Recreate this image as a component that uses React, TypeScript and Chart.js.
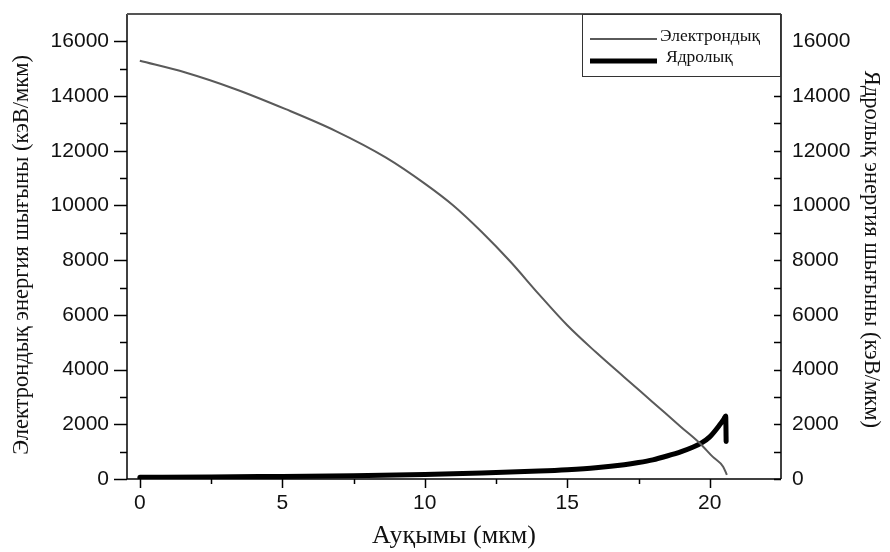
import React, { useEffect, useRef } from "react";
import { Chart, registerables } from "chart.js";

Chart.register(...registerables);

// ---- Data ----
const electronX = [0, 1.6, 3.36, 5.12, 6.88, 8.64, 10, 11, 12, 13, 14, 15, 16, 17, 18, 19, 19.65, 20.1, 20.47, 20.6];
const electronY = [15290, 14860, 14250, 13520, 12720, 11750, 10800, 10000, 9030, 7950, 6760, 5620, 4640, 3720, 2810, 1895, 1310, 817, 450, 150];

const nuclearX = [0, 2.5, 5, 7.5, 10, 12, 14, 15, 16, 17, 17.5, 18, 18.5, 19, 19.4, 19.7, 20.0, 20.35, 20.5, 20.56, 20.575];
const nuclearY = [60, 75, 95, 115, 160, 215, 290, 340, 410, 520, 600, 700, 840, 1000, 1160, 1310, 1540, 1980, 2200, 2300, 1370];

const seriesLabels = ["Электрондық", "Ядролық"];

const xMajorTicks = [0, 5, 10, 15, 20];
const xMinorTicks = [2.5, 7.5, 12.5, 17.5];
const yMajorTicks = [0, 2000, 4000, 6000, 8000, 10000, 12000, 14000, 16000];
const yMinorTicks = [1000, 3000, 5000, 7000, 9000, 11000, 13000, 15000];

const xTitle = "Ауқымы (мкм)";
const yTitle = "Электрондық энергия шығыны (кэВ/мкм)";
const y2Title = "Ядролық энергия шығыны (кэВ/мкм)";

const SANS = "'Liberation Sans', Arial, sans-serif";
const SERIF = "'Liberation Serif', 'Times New Roman', serif";

const decorPlugin = {
  id: "decor",
  afterDraw(chart: any) {
    const { ctx, chartArea: a, scales } = chart;
    const xs = scales.x;
    const ys = scales.y;
    ctx.save();
    const line = (x1: number, y1: number, x2: number, y2: number) => {
      ctx.beginPath();
      ctx.moveTo(x1, y1);
      ctx.lineTo(x2, y2);
      ctx.stroke();
    };
    ctx.strokeStyle = "#000";
    ctx.lineWidth = 1.5;
    xMajorTicks.forEach((v) => {
      const px = Math.round(xs.getPixelForValue(v)) + 0.5;
      line(px, a.bottom, px, a.bottom + 9);
    });
    xMinorTicks.forEach((v) => {
      const px = Math.round(xs.getPixelForValue(v)) + 0.5;
      line(px, a.bottom, px, a.bottom + 5);
    });
    yMajorTicks.forEach((v) => {
      const py = Math.round(ys.getPixelForValue(v)) + 0.5;
      line(a.left - 13, py, a.left, py);
      line(a.right - 7, py, a.right, py);
    });
    yMinorTicks.forEach((v) => {
      const py = Math.round(ys.getPixelForValue(v)) + 0.5;
      line(a.left - 7, py, a.left, py);
      line(a.right - 7, py, a.right, py);
    });
    // frame
    ctx.lineWidth = 1.5;
    line(a.left, a.bottom, a.right, a.bottom);
    line(a.left, a.top, a.left, a.bottom);
    line(a.right, a.top, a.right, a.bottom);
    ctx.strokeStyle = "#555";
    ctx.lineWidth = 2;
    line(a.left, a.top, a.right, a.top);

    // legend box
    const bw = 199;
    const bh = 63;
    const bx = a.right - bw;
    const by = a.top;
    ctx.fillStyle = "#fff";
    ctx.fillRect(bx, by + 1, bw, bh - 1);
    ctx.strokeStyle = "#333";
    ctx.lineWidth = 1;
    ctx.strokeRect(bx + 0.5, by + 0.5, bw - 1, bh - 1);
    const rows = [
      { ly: 25, ty: 27, tx: 78 },
      { ly: 47, ty: 48, tx: 84 },
    ];
    chart.data.datasets.forEach((ds: any, i: number) => {
      const r = rows[i];
      ctx.strokeStyle = ds.borderColor;
      ctx.lineWidth = ds.borderWidth;
      ctx.lineCap = "butt";
      line(bx + 8, by + r.ly, bx + 75, by + r.ly);
      ctx.fillStyle = "#111";
      ctx.font = `17.5px ${SERIF}`;
      ctx.textBaseline = "alphabetic";
      ctx.textAlign = "left";
      ctx.fillText(ds.label, bx + r.tx, by + r.ty);
    });
    ctx.restore();
  },
};

export default function App() {
  const canvasRef = useRef<HTMLCanvasElement | null>(null);

  useEffect(() => {
    const canvas = canvasRef.current;
    if (!canvas) return;
    const chart = new Chart(canvas, {
      type: "line",
      data: {
        datasets: [
          {
            label: seriesLabels[0],
            data: electronX.map((x, i) => ({ x, y: electronY[i] })),
            borderColor: "#5a5a5a",
            borderWidth: 2,
            pointRadius: 0,
            cubicInterpolationMode: "monotone",
            yAxisID: "y",
          },
          {
            label: seriesLabels[1],
            data: nuclearX.map((x, i) => ({ x, y: nuclearY[i] })),
            borderColor: "#000",
            borderWidth: 5,
            pointRadius: 0,
            cubicInterpolationMode: "monotone",
            borderCapStyle: "round",
            borderJoinStyle: "round",
            yAxisID: "y2",
          },
        ],
      },
      options: {
        animation: false,
        responsive: true,
        maintainAspectRatio: false,
        layout: { padding: { top: 14, left: 0, right: 0, bottom: 0 } },
        plugins: {
          legend: { display: false },
          tooltip: { enabled: false },
        },
        scales: {
          x: {
            type: "linear",
            min: -0.45,
            max: 22.5,
            afterFit: (s: any) => {
              s.height = 73;
              s.paddingLeft = 0;
              s.paddingRight = 0;
            },
            afterBuildTicks: (s: any) => {
              s.ticks = xMajorTicks.map((v) => ({ value: v }));
            },
            grid: { display: false, drawTicks: true, tickLength: 9 },
            border: { display: false },
            ticks: {
              padding: 3,
              color: "#111",
              font: { family: SANS, size: 21 },
              callback: (v: any) => String(v),
              maxRotation: 0,
            },
            title: {
              display: true,
              text: xTitle,
              color: "#111",
              font: { family: SERIF, size: 26 },
              padding: { top: 0, bottom: 0 },
            },
          },
          y: {
            type: "linear",
            position: "left",
            min: 0,
            max: 17000,
            afterFit: (s: any) => {
              s.width = 127;
              s.paddingTop = 0;
              s.paddingBottom = 0;
            },
            afterBuildTicks: (s: any) => {
              s.ticks = yMajorTicks.map((v) => ({ value: v }));
            },
            grid: { display: false, drawTicks: true, tickLength: 13 },
            border: { display: false },
            ticks: {
              padding: 5,
              color: "#111",
              font: { family: SANS, size: 21 },
              callback: (v: any) => String(v),
            },
            title: {
              display: true,
              text: yTitle + "\u00a0\u00a0\u00a0",
              color: "#111",
              font: { family: SERIF, size: 22.5 },
              padding: { top: 9, bottom: 0 },
            },
          },
          y2: {
            type: "linear",
            position: "right",
            min: 0,
            max: 17000,
            afterFit: (s: any) => {
              s.width = 109;
              s.paddingTop = 0;
              s.paddingBottom = 0;
            },
            afterBuildTicks: (s: any) => {
              s.ticks = yMajorTicks.map((v) => ({ value: v }));
            },
            grid: { display: false, drawTicks: false },
            border: { display: false },
            ticks: {
              padding: 11,
              color: "#111",
              font: { family: SANS, size: 21 },
              callback: (v: any) => String(v),
            },
            title: {
              display: true,
              text: "\u00a0" + y2Title,
              color: "#111",
              font: { family: SERIF, size: 22.5 },
              padding: { top: 6, bottom: 0 },
            },
          },
        },
      },
      plugins: [decorPlugin],
    } as any);
    return () => chart.destroy();
  }, []);

  return (
    <div style={{ position: "absolute", left: 0, top: 0, width: 890, height: 552, background: "#fff" }}>
      <canvas ref={canvasRef} />
    </div>
  );
}
